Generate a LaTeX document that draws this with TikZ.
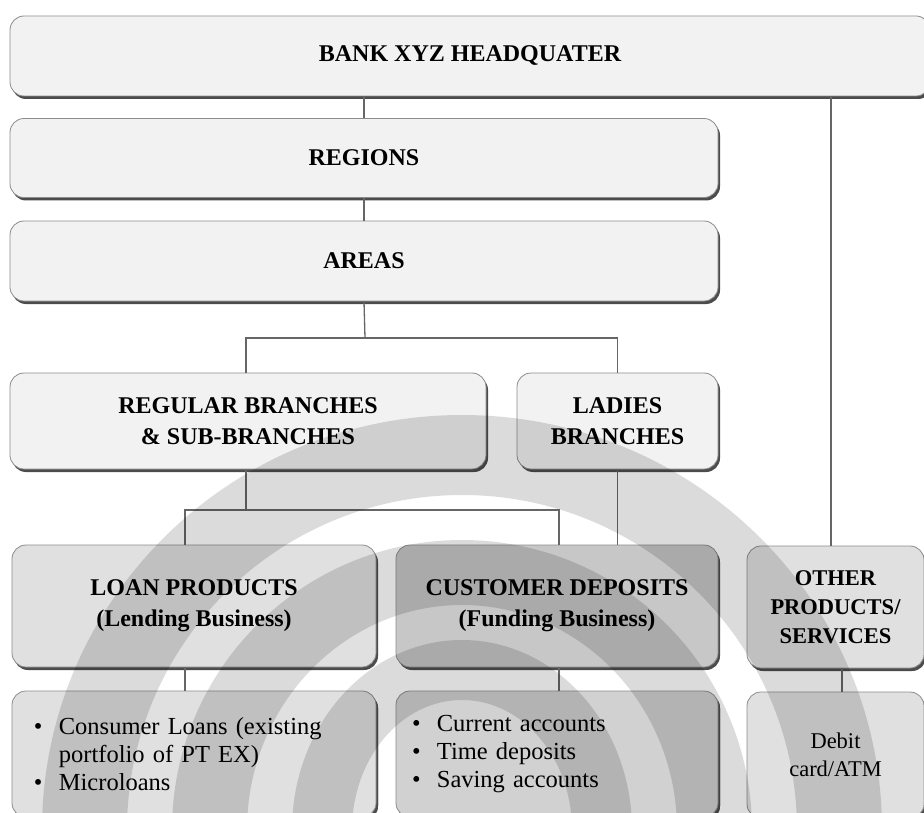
\documentclass[tikz,border=0pt]{standalone}
\usepackage{fontspec}
\setmainfont{Liberation Serif}
\usetikzlibrary{shadows}

\tikzset{
  box/.style={draw=black!45, line width=0.8pt, rounded corners=14pt,
    drop shadow={shadow xshift=2pt, shadow yshift=-3pt, fill=black!70, opacity=1},
    inner sep=0pt, align=center,
    font=\fontsize{24}{31}\selectfont\bfseries},
  light/.style={box, fill=black!5},
  mid/.style={box, fill=black!12},
  dark/.style={box, fill=black!22},
  listbox/.style={box, align=left, font=\fontsize{24.5}{28}\selectfont,
    text width=#1},
  conn/.style={draw=black!60, line width=1.3pt}
}

\begin{document}
\begin{tikzpicture}[x=1pt, y=-1pt]
\useasboundingbox (0,0) rectangle (924,813);
\fill[white] (0,0) rectangle (924,813);

% top of the hierarchy
\node[light, minimum width=920, minimum height=80] (hq) at (470,56) {BANK XYZ HEADQUATER};
\node[light, minimum width=708, minimum height=79] (regions) at (364,158) {REGIONS};
\node[light, minimum width=708, minimum height=80] (areas) at (364,261) {AREAS};

% branch types
\node[light, minimum width=476, minimum height=96] (regular) at (248,421) {REGULAR BRANCHES\\\& SUB-BRANCHES};
\node[light, minimum width=201, minimum height=96] (ladies) at (617.5,421) {LADIES\\BRANCHES};

% product groups
\node[mid, minimum width=364, minimum height=122] (loan) at (194,606) {LOAN PRODUCTS\\(Lending Business)};
\node[dark, minimum width=322, minimum height=122] (deposits) at (557,606) {CUSTOMER DEPOSITS\\(Funding Business)};
\node[mid, minimum width=177, minimum height=122, font=\fontsize{22.5}{29}\selectfont\bfseries] (other) at (835.5,607) {OTHER\\PRODUCTS/\\SERVICES};

% product details
\node[box, fill=black!12, minimum width=364, minimum height=126, listbox=320, inner xsep=22pt] (loanlist) at (194,754)
  {\textbullet\ \ Consumer Loans (existing\\\phantom{\textbullet\ \ }portfolio of PT EX)\\\textbullet\ \ Microloans};
\node[box, fill=black!18, minimum width=322, minimum height=126, listbox=290, inner xsep=16pt] (deplist) at (557,754)
  {\textbullet\ \ Current accounts\\\textbullet\ \ Time deposits\\\textbullet\ \ Saving accounts};
\node[box, fill=black!12, minimum width=177, minimum height=126, font=\fontsize{22.5}{28}\selectfont] (debit) at (835.5,755)
  {Debit\\card/ATM};

% connector routing points
\coordinate (busA) at (365,338);
\coordinate (busB) at (246,510);
\coordinate (lx) at (185,0);
\coordinate (dx) at (559,0);
\coordinate (hx) at (831,0);
\coordinate (ox) at (842,0);

\draw[conn] (hq.south -| regions.north) -- (regions.north);
\draw[conn] (regions.south) -- (areas.north);
\draw[conn] (areas.south) -- (busA);
\draw[conn] (regular.north -| busB) |- (busA) -| (ladies.north);
\draw[conn] (regular.south -| busB) -- (busB);
\draw[conn] (loan.north -| lx) |- (busB) -| (deposits.north -| dx);
\draw[conn] (ladies.south) -- (deposits.north -| ladies.south);
\draw[conn] (hq.south -| hx) -- (other.north -| hx);
\draw[conn] (loan.south -| lx) -- (loanlist.north -| lx);
\draw[conn] (deposits.south -| dx) -- (deplist.north -| dx);
\draw[conn] (other.south -| ox) -- (debit.north -| ox);

% faint emblem in the background
\fill[black, opacity=0.14, even odd rule]
  (462,830) ellipse [x radius=420, y radius=415]
  (462,830) ellipse [x radius=335, y radius=335]
  (462,830) ellipse [x radius=290, y radius=290]
  (462,830) ellipse [x radius=215, y radius=225]
  (462,830) ellipse [x radius=170, y radius=190]
  (462,830) ellipse [x radius=110, y radius=130];
\end{tikzpicture}
\end{document}
